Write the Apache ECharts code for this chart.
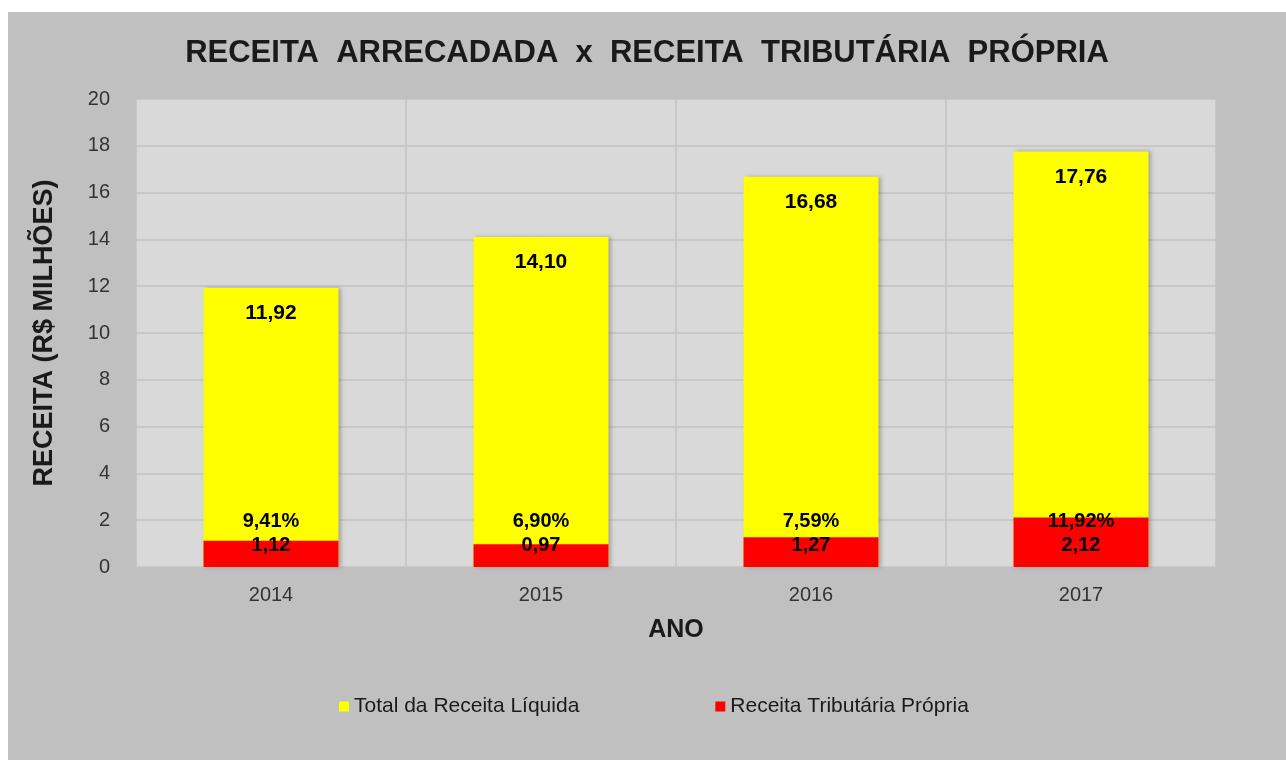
<!DOCTYPE html>
<html>
<head>
<meta charset="utf-8">
<script src="https://cdn.jsdelivr.net/npm/echarts@6/dist/echarts.min.js"></script>
<style>
  html, body { margin: 0; padding: 0; background: #ffffff; }
  #chart { position: absolute; left: 8px; top: 12px; width: 1278px; height: 748px; background: #c0c0c0; }
</style>
</head>
<body>
<div id="chart"></div>
<script>
const anos = ['2014', '2015', '2016', '2017'];
const receitaLiquida = [11.92, 14.10, 16.68, 17.76];
const receitaTributaria = [1.12, 0.97, 1.27, 2.12];
const percentuais = ['9,41%', '6,90%', '7,59%', '11,92%'];

const fmt = v => v.toFixed(2).replace('.', ',');
const fonte = 'Liberation Sans, Arial, sans-serif';

const chart = echarts.init(document.getElementById('chart'));
chart.setOption({
  backgroundColor: '#c0c0c0',
  textStyle: { fontFamily: fonte },
  title: {
    text: 'RECEITA  ARRECADADA  x  RECEITA  TRIBUTÁRIA  PRÓPRIA',
    left: 'center',
    top: 21,
    textStyle: { fontSize: 31, fontWeight: 'bold', color: '#1a1a1a', fontFamily: fonte }
  },
  legend: {
    bottom: 38,
    left: 326,
    itemWidth: 10,
    itemHeight: 10,
    itemGap: 136,
    icon: 'rect',
    textStyle: { fontSize: 21, color: '#1a1a1a' },
    data: ['Total da Receita Líquida', 'Receita Tributária Própria']
  },
  grid: {
    left: 128, top: 87, right: 70, bottom: 193,
    show: true, backgroundColor: '#d9d9d9', borderWidth: 0
  },
  xAxis: {
    type: 'category',
    data: anos,
    name: 'ANO',
    nameLocation: 'middle',
    nameGap: 51,
    nameTextStyle: { fontSize: 25, fontWeight: 'bold', color: '#1a1a1a' },
    axisLine: { show: false },
    axisTick: { show: false },
    axisLabel: { fontSize: 20, color: '#333', margin: 18 },
    splitLine: { show: true, lineStyle: { color: '#c2c2c2', width: 1.5 } }
  },
  yAxis: {
    type: 'value',
    min: 0,
    max: 20,
    interval: 2,
    name: 'RECEITA (R$ MILHÕES)',
    nameLocation: 'middle',
    nameGap: 78,
    nameRotate: 90,
    nameTextStyle: { fontSize: 27, fontWeight: 'bold', color: '#1a1a1a' },
    axisLine: { show: false },
    axisTick: { show: false },
    axisLabel: { fontSize: 20, color: '#333', margin: 26 },
    splitLine: { lineStyle: { color: '#c2c2c2', width: 1.5 } }
  },
  series: [
    {
      name: 'Total da Receita Líquida',
      type: 'bar',
      data: receitaLiquida,
      barWidth: '50%',
      barGap: '-100%',
      itemStyle: { color: '#ffff00', shadowColor: 'rgba(0,0,0,0.25)', shadowBlur: 4, shadowOffsetX: 2, shadowOffsetY: 0 },
      label: {
        show: true,
        position: 'insideTop',
        distance: 15,
        formatter: p => fmt(p.value),
        fontSize: 21,
        fontWeight: 'bold',
        color: '#000'
      }
    },
    {
      name: 'Receita Tributária Própria',
      type: 'bar',
      data: receitaTributaria,
      barWidth: '50%',
      itemStyle: { color: '#ff0000' },
      label: {
        show: true,
        position: 'insideBottom',
        distance: 10,
        lineHeight: 24,
        formatter: p => percentuais[p.dataIndex] + '\n' + fmt(p.value),
        fontSize: 20,
        fontWeight: 'bold',
        color: '#000'
      }
    }
  ]
});
</script>
</body>
</html>
